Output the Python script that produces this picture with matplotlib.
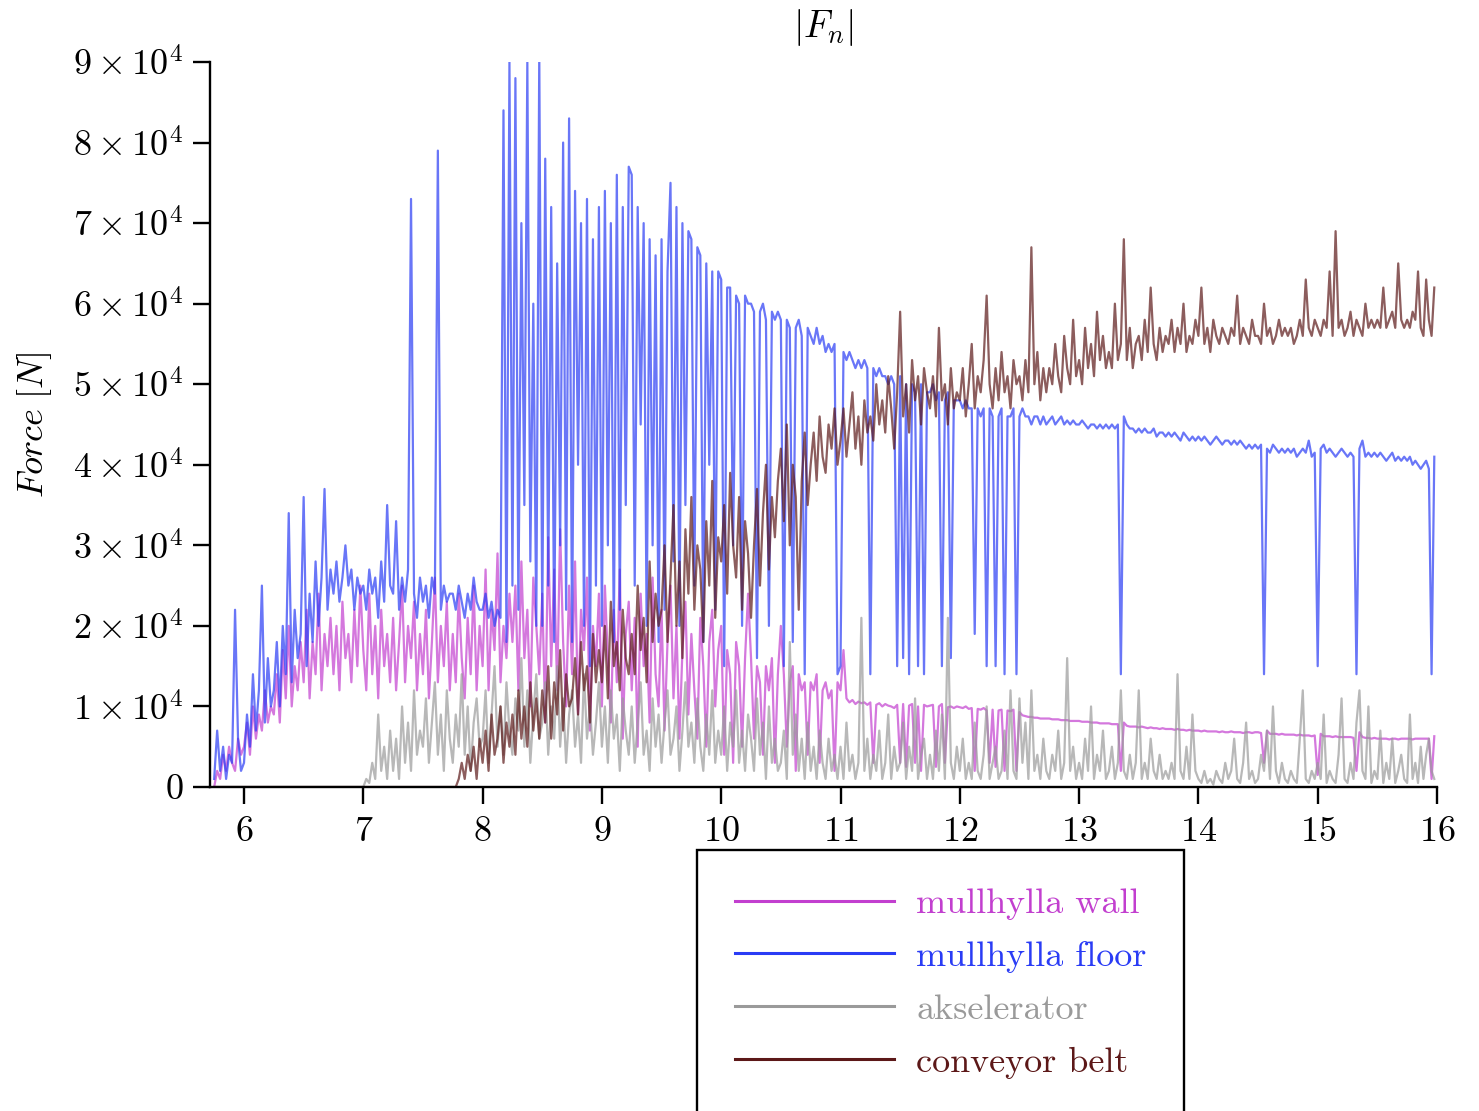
import numpy as np
import matplotlib
matplotlib.use('Agg')
import matplotlib.pyplot as plt

plt.rcParams['font.family'] = 'serif'
plt.rcParams['font.serif'] = ['cmr10']
plt.rcParams['mathtext.fontset'] = 'cm'
plt.rcParams['axes.formatter.use_mathtext'] = True

# samples are stored in rows of 0.25 s, first row starts at 5.75 s, values in kN
row_start = 5.75
row_len = 0.25

wall_kN = [
    [0, 2, 1, 4, 2, 5, 3, 2, 6, 4],            # 5.75
    [5, 8, 4, 10, 6, 9, 7, 12, 8, 10],          # 6.0
    [9, 14, 8, 17, 11, 20, 10, 15, 12, 18],     # 6.25
    [13, 22, 11, 18, 14, 24, 12, 19, 15, 21],   # 6.5
    [14, 20, 12, 23, 16, 19, 13, 22, 15, 25],   # 6.75
    [17, 12, 24, 14, 20, 11, 22, 15, 19, 13],   # 7.0
    [21, 12, 18, 25, 13, 20, 16, 23, 12, 19],   # 7.25
    [14, 22, 11, 18, 26, 13, 20, 15, 23, 12],   # 7.5
    [19, 13, 24, 16, 11, 21, 14, 25, 12, 20],   # 7.75
    [15, 27, 12, 22, 17, 29, 13, 20, 16, 24],   # 8.0
    [18, 25, 12, 28, 16, 22, 10, 26, 20, 14],   # 8.25
    [24, 8, 31, 15, 27, 12, 32, 18, 10, 25],    # 8.5
    [14, 28, 9, 22, 17, 26, 7, 20, 15, 24],     # 8.75
    [10, 25, 16, 8, 22, 13, 27, 6, 19, 23],     # 9.0
    [12, 21, 5, 24, 15, 19, 8, 26, 14, 10],     # 9.25
    [22, 7, 18, 25, 11, 20, 6, 17, 23, 9],      # 9.5
    [19, 12, 6, 21, 15, 5, 18, 22, 10, 17],     # 9.75
    [20, 4, 17, 14, 3, 18, 15, 5, 16, 24],      # 10.0
    [16, 6, 15, 13, 4, 15, 12, 16, 3, 14],      # 10.25
    [20, 14, 5, 13, 15, 2, 14, 12, 13, 4],      # 10.5
    [13, 12, 14, 3, 12, 13, 11, 12, 2, 13],     # 10.75
    [12, 17, 11, 10.5, 10.8, 10.3, 10.6, 10.4, 10.5, 10.2],   # 11.0
    [10.5, 3, 10.2, 10.4, 10, 10.3, 10.1, 10, 9.8, 10.2],     # 11.25
    [3, 10.3, 2.5, 10.1, 10.3, 3, 10, 2, 10.2, 10],           # 11.5
    [10.1, 10.2, 2.5, 10, 10.3, 3, 9.9, 10, 9.8, 10],         # 11.75
    [9.9, 9.8, 10, 9.7, 9.8, 2, 9.7, 9.6, 9.8, 9.5],          # 12.0
    [3, 9.6, 2.5, 9.5, 9.6, 2, 9.5, 9.4, 9.6, 2],             # 12.25
    [9.3, 8.9, 8.8, 8.7, 8.7, 8.6, 8.6, 8.5, 8.5, 8.5],       # 12.5
    [8.5, 8.4, 8.4, 8.4, 8.3, 8.3, 8.3, 8.2, 8.2, 8.2],       # 12.75
    [8.2, 8.1, 8.1, 8.1, 8.0, 8.0, 8.0, 7.9, 7.9, 7.9],       # 13.0
    [7.9, 7.8, 7.8, 7.8, 2, 8.0, 7.6, 7.5, 7.5, 7.5],         # 13.25
    [7.4, 7.5, 7.4, 7.3, 7.4, 7.3, 7.3, 7.2, 7.3, 7.2],       # 13.5
    [7.2, 7.2, 7.1, 7.2, 7.1, 7.1, 7.0, 7.1, 7.0, 7.0],       # 13.75
    [7.0, 6.9, 7.0, 6.9, 6.9, 6.9, 6.9, 6.8, 6.9, 6.8],       # 14.0
    [6.8, 6.9, 6.8, 6.8, 6.8, 6.7, 6.8, 6.8, 6.7, 6.8],       # 14.25
    [6.8, 6.7, 3, 7.0, 6.6, 6.6, 6.6, 6.5, 6.6, 6.5],         # 14.5
    [6.5, 6.5, 6.5, 6.4, 6.5, 6.4, 6.4, 6.4, 6.3, 6.4],       # 14.75
    [1.5, 6.6, 6.3, 6.3, 6.3, 6.2, 6.3, 6.2, 6.2, 6.2],       # 15.0
    [6.2, 6.2, 6.1, 2, 6.8, 6.2, 6.1, 6.1, 6.0, 6.1],         # 15.25
    [6.0, 6.0, 6.0, 6.0, 5.9, 6.0, 6.0, 5.9, 6.0, 6.0],       # 15.5
    [6.0, 6.0, 5.9, 6.0, 6.0, 6.0, 6.0, 6.0, 6.0, 1, 6.3],    # 15.75
]

floor_kN = [
    [1, 7, 2, 5, 1, 4, 3, 22, 6, 2],            # 5.75
    [3, 9, 5, 14, 7, 12, 25, 8, 16, 10],        # 6.0
    [12, 18, 10, 20, 14, 34, 13, 22, 16, 19],   # 6.25
    [36, 15, 24, 18, 28, 20, 26, 37, 22, 27],   # 6.5
    [24, 28, 23, 26, 30, 25, 27, 22, 26, 24],   # 6.75
    [25, 22, 27, 24, 26, 21, 28, 23, 35, 25],   # 7.0
    [24, 33, 22, 26, 23, 27, 73, 24, 21, 26],   # 7.25
    [23, 25, 21, 26, 24, 79, 22, 25, 23, 24],   # 7.5
    [24, 22, 25, 23, 21, 24, 22, 26, 23, 22],   # 7.75
    [22, 24, 21, 23, 20, 22, 21, 84, 18, 90],   # 8.0
    [25, 88, 22, 70, 35, 90, 28, 60, 20, 91],   # 8.25
    [20, 78, 25, 72, 18, 65, 30, 80, 22, 83],   # 8.5
    [18, 74, 40, 70, 20, 73, 15, 68, 25, 72],   # 8.75
    [20, 74, 30, 70, 18, 76, 22, 72, 35, 77],   # 9.0
    [76, 25, 72, 45, 70, 20, 68, 30, 66, 18],   # 9.25
    [68, 22, 64, 75, 28, 72, 20, 70, 35, 69],   # 9.5
    [68, 25, 67, 66, 18, 65, 40, 64, 22, 64],   # 9.75
    [63, 15, 62, 62, 30, 61, 60, 20, 61, 60],   # 10.0
    [60, 59, 16, 59, 60, 58, 20, 59, 58, 59],   # 10.25
    [58, 15, 58, 57, 18, 57, 58, 56, 14, 57],   # 10.5
    [56, 55, 57, 55, 56, 54, 55, 54, 55, 14],   # 10.75
    [15, 54, 53, 54, 53, 52, 53, 52, 53, 52],   # 11.0
    [14, 52, 51, 52, 51, 51, 50, 51, 50, 15],   # 11.25
    [51, 16, 50, 14, 50, 49, 15, 50, 14, 49],   # 11.5
    [49, 50, 48, 49, 15, 48, 49, 16, 48, 48],   # 11.75
    [48, 47, 48, 47, 47, 19, 47, 46, 47, 15],   # 12.0
    [47, 46, 15, 46, 47, 14, 46, 46, 47, 14],   # 12.25
    [46, 47, 46, 46, 45, 46, 46, 45, 46, 45],   # 12.5
    [45.5, 46, 45, 45.5, 46, 45, 45.5, 45, 45.5, 45],     # 12.75
    [45, 45.5, 45, 44.5, 45, 45, 44.5, 45, 44.5, 45],     # 13.0
    [44.5, 45, 44.5, 45, 14, 46, 45, 44.5, 44.5, 44],     # 13.25
    [44.5, 44, 44.5, 44, 44, 44.5, 43.5, 44, 44, 43.5],   # 13.5
    [44, 43.5, 44, 43.5, 43, 44, 43.5, 43, 43.5, 43],     # 13.75
    [43.5, 43, 43.5, 43, 42.5, 43, 43.5, 43, 42.5, 43],   # 14.0
    [43, 42.5, 43, 42.5, 43, 42.5, 42, 42.5, 42, 42.5],   # 14.25
    [42, 42.5, 14, 42, 41.5, 42.5, 42, 41.5, 42, 41.5],   # 14.5
    [42, 41.5, 42, 41, 41.5, 42, 41.5, 43, 41, 41.5],     # 14.75
    [15, 42, 42.5, 41.5, 42, 41.5, 41, 41.5, 42, 41.5],   # 15.0
    [41, 41.5, 41, 14, 42, 43, 41, 41.5, 41, 41.5],       # 15.25
    [41, 41.5, 41, 40.5, 41, 41.5, 40.5, 41, 40.5, 41],   # 15.5
    [40.5, 41, 40, 40.5, 40, 39.5, 40, 40.5, 39.5, 14, 41],  # 15.75
]

akselerator_kN = [
    [0, 0], [0, 0], [0, 0], [0, 0], [0, 0],    # 5.75 - 7.0
    [0, 1, 0.5, 3, 1, 9, 2, 5, 1, 7],          # 7.0
    [2, 6, 1, 10, 3, 8, 2, 12, 4, 7],          # 7.25
    [5, 11, 3, 8, 13, 4, 9, 2, 12, 6],         # 7.5
    [3, 9, 5, 14, 4, 10, 2, 8, 11, 5],         # 7.75
    [6, 12, 3, 9, 15, 5, 10, 4, 13, 7],        # 8.0
    [4, 11, 7, 16, 5, 12, 3, 9, 14, 6],        # 8.25
    [8, 13, 4, 10, 6, 15, 5, 11, 3, 9],        # 8.5
    [12, 5, 9, 3, 14, 6, 10, 4, 8, 13],        # 8.75
    [5, 10, 3, 12, 6, 9, 2, 11, 7, 4],         # 9.0
    [10, 3, 8, 13, 4, 7, 2, 11, 5, 9],         # 9.25
    [3, 8, 12, 4, 6, 10, 2, 7, 13, 5],         # 9.5
    [8, 3, 11, 5, 2, 9, 4, 12, 3, 7],          # 9.75
    [4, 10, 2, 8, 5, 12, 3, 7, 2, 9],          # 10.0
    [6, 2, 11, 4, 8, 1, 10, 3, 6, 2],          # 10.25
    [3, 7, 1, 18, 4, 9, 2, 6, 1, 8],           # 10.5
    [2, 5, 1, 7, 3, 1, 6, 2, 4, 1],            # 10.75
    [5, 1, 8, 2, 4, 1, 3, 21, 2, 6],           # 11.0
    [1, 4, 2, 7, 1, 3, 9, 1, 5, 2],            # 11.25
    [3, 8, 1, 5, 2, 11, 1, 4, 6, 1],           # 11.5
    [4, 1, 7, 2, 9, 1, 21, 3, 1, 5],           # 11.75
    [2, 6, 1, 3, 1, 8, 2, 1, 4, 10],           # 12.0
    [1, 3, 5, 1, 2, 7, 1, 12, 2, 1],           # 12.25
    [11, 3, 8, 1, 12, 2, 4, 1, 6, 2],          # 12.5
    [1, 4, 2, 7, 1, 3, 16, 2, 5, 1],           # 12.75
    [3, 1, 6, 2, 10, 1, 4, 2, 7, 1],           # 13.0
    [2, 5, 1, 3, 12, 2, 1, 4, 1, 3],           # 13.25
    [12, 1, 3, 1, 6, 2, 1, 4, 1, 2],           # 13.5
    [1, 3, 1, 14, 2, 1, 5, 1, 9, 2],           # 13.75
    [1, 0.5, 2, 0.5, 1, 0.3, 2, 1, 0.5, 3],    # 14.0
    [1, 2, 6, 1, 0.5, 3, 8, 1, 2, 0.5],        # 14.25
    [1, 4, 2, 7, 1, 10, 2, 0.5, 3, 1],         # 14.5
    [0.5, 2, 1, 0.5, 6, 12, 1, 0.5, 2, 1],     # 14.75
    [3, 1, 9, 0.5, 2, 1, 0.5, 4, 11, 1],       # 15.0
    [0.5, 3, 1, 8, 12, 2, 1, 10, 0.5, 2],      # 15.25
    [1, 7, 0.5, 3, 1, 6, 0.5, 2, 4, 1],        # 15.5
    [0.5, 9, 1, 3, 0.5, 5, 1, 4, 6, 2, 1],     # 15.75
]

conveyor_kN = [
    [0, 0], [0, 0], [0, 0], [0, 0], [0, 0], [0, 0], [0, 0], [0, 0],   # 5.75 - 7.75
    [0, 0, 1, 3, 1, 4, 2, 5, 1, 6],            # 7.75
    [3, 7, 2, 9, 4, 6, 10, 3, 8, 5],           # 8.0
    [9, 4, 12, 6, 10, 5, 13, 7, 11, 6],        # 8.25
    [12, 8, 15, 6, 13, 9, 17, 7, 14, 10],      # 8.5
    [11, 16, 9, 18, 12, 15, 8, 19, 13, 17],    # 8.75
    [13, 20, 11, 23, 15, 18, 12, 22, 16, 14],  # 9.0
    [19, 14, 25, 17, 21, 13, 28, 18, 24, 20],  # 9.25
    [22, 30, 18, 26, 35, 20, 28, 16, 32, 24],  # 9.5
    [36, 22, 30, 27, 18, 33, 25, 38, 21, 31],  # 9.75
    [28, 35, 24, 39, 30, 26, 36, 22, 33, 29],  # 10.0
    [21, 30, 37, 25, 34, 40, 27, 36, 31, 38],  # 10.25
    [42, 33, 45, 30, 40, 36, 22, 38, 44, 35],  # 10.5
    [40, 44, 38, 46, 41, 39, 45, 42, 47, 40],  # 10.75
    [43, 47, 41, 45, 49, 42, 46, 40, 48, 44],  # 11.0
    [46, 43, 50, 45, 48, 44, 51, 47, 42, 49],  # 11.25
    [59, 46, 50, 44, 53, 48, 51, 45, 52, 49],  # 11.5
    [47, 51, 46, 57, 48, 50, 45, 52, 47, 49],  # 11.75
    [48, 52, 46, 50, 55, 47, 51, 49, 53, 61],  # 12.0
    [50, 47, 52, 48, 54, 49, 51, 47, 53, 50],  # 12.25
    [51, 48, 53, 49, 67, 50, 54, 48, 52, 49],  # 12.5
    [52, 50, 55, 51, 49, 56, 52, 50, 58, 51],  # 12.75
    [53, 50, 57, 52, 55, 51, 59, 53, 56, 52],  # 13.0
    [54, 52, 60, 53, 55, 68, 53, 57, 52, 55],  # 13.25
    [56, 53, 58, 54, 62, 55, 53, 57, 54, 56],  # 13.5
    [55, 58, 54, 57, 55, 60, 54, 56, 55, 58],  # 13.75
    [56, 62, 55, 57, 54, 58, 56, 55, 57, 56],  # 14.0
    [55, 57, 56, 61, 55, 57, 56, 55, 58, 56],  # 14.25
    [56, 55, 60, 56, 57, 55, 56, 58, 56, 57],  # 14.5
    [56, 57, 55, 56, 58, 56, 63, 57, 56, 58],  # 14.75
    [57, 56, 58, 57, 64, 56, 69, 57, 58, 56],  # 15.0
    [57, 59, 56, 58, 57, 56, 60, 57, 58, 57],  # 15.25
    [58, 57, 62, 57, 58, 59, 57, 65, 58, 57],  # 15.5
    [58, 57, 59, 58, 64, 57, 56, 63, 58, 56, 62],  # 15.75
]

labels = ['mullhylla wall', 'mullhylla floor', 'akselerator', 'conveyor belt']
colors = ['#c23fcf', '#2a3cf5', '#9a9a9a', '#5c1818']
series = [wall_kN, floor_kN, akselerator_kN, conveyor_kN]

ytick_vals = [0, 1e4, 2e4, 3e4, 4e4, 5e4, 6e4, 7e4, 8e4, 9e4]
ytick_labels = ['$0$'] + [r'$%d\times10^{4}$' % k for k in range(1, 10)]
xtick_vals = [6, 7, 8, 9, 10, 11, 12, 13, 14, 15, 16]


def expand(rows):
    t, v = [], []
    for i, row in enumerate(rows):
        t0 = row_start + row_len * i
        t.extend(t0 + row_len * np.arange(len(row)) / len(row))
        v.extend(row)
    return np.array(t), np.array(v) * 1e3


fig = plt.figure(figsize=(14.79, 11.11), dpi=100)
ax = fig.add_axes([210 / 1479, 1 - 787 / 1111, (1437 - 210) / 1479, (787 - 62) / 1111])

for rows, lab, col in zip(series, labels, colors):
    t, v = expand(rows)
    ax.plot(t, v, color=col, lw=1.6, alpha=0.7, label=lab)

ax.set_xlim(5.715, 16)
ax.set_ylim(0, 9e4)
ax.set_xticks(xtick_vals)
ax.set_yticks(ytick_vals)
ax.set_yticklabels(ytick_labels)
ax.spines['top'].set_visible(False)
ax.spines['right'].set_visible(False)
for s in ['left', 'bottom']:
    ax.spines[s].set_linewidth(1.7)
ax.tick_params(direction='out', length=12, width=1.7, labelsize=26, pad=7)
ax.tick_params(axis='x', pad=9)

ax.set_title(r'$|F_n|$', fontsize=27, pad=18)
ax.set_ylabel(r'$Force\ [N]$', fontsize=26, labelpad=14)

leg = fig.legend(loc='upper left', bbox_to_anchor=(697 / 1479, 1 - 850 / 1111),
                 bbox_transform=fig.transFigure, fontsize=26, frameon=True,
                 fancybox=False, edgecolor='black', framealpha=1,
                 handlelength=4.4, handletextpad=0.62, labelspacing=0.57,
                 borderpad=1.05, borderaxespad=0)
leg.get_frame().set_linewidth(1.7)
for line in leg.get_lines():
    line.set_alpha(1)
    line.set_linewidth(2.2)
for txt, col in zip(leg.get_texts(), colors):
    txt.set_color(col)

fig.savefig('out.png', dpi=100)
